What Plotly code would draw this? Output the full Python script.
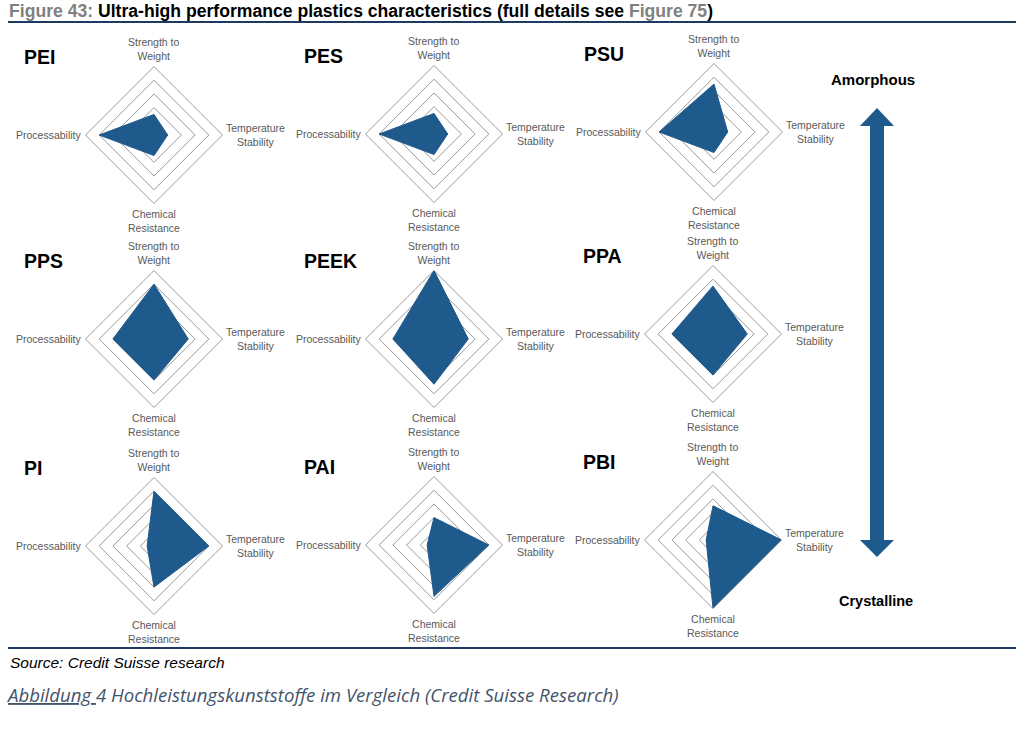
import plotly.graph_objects as go

# ---------------- data ----------------
categories = ["Strength to Weight", "Temperature Stability", "Chemical Resistance", "Processability"]
plastics = ["PEI", "PES", "PSU", "PPS", "PEEK", "PPA", "PI", "PAI", "PBI"]
strength = [1.5, 1.5, 3.5, 4.0, 5.0, 3.5, 4.0, 2.0, 2.5]
temperature = [1.0, 1.0, 1.0, 2.5, 2.5, 2.5, 4.0, 4.0, 5.0]
chemical = [1.5, 1.5, 1.5, 3.0, 3.3, 3.0, 3.0, 3.75, 5.0]
processability = [4.0, 4.0, 4.0, 3.0, 3.0, 3.0, 0.5, 0.5, 0.5]
axis_labels = ["Strength to<br>Weight", "Temperature<br>Stability", "Chemical<br>Resistance", "Processability"]
ring_values = [1, 2, 3, 4, 5]

# ---------------- layout constants ----------------
W, H = 1024, 729
R = 68.5
centers = [(154, 135), (434, 134), (714, 132),
           (154, 339), (434, 339), (713, 334),
           (154, 546), (434, 545), (713, 540)]
FILL = "#1F5A8C"
GRID = "#9a9a9a"
LABEL = "#595959"
NAVY = "#1F3A60"
ARIAL = "Liberation Sans, Arial, sans-serif"


def px(x):
    return x / W


def py(y):
    return 1 - y / H


fig = go.Figure()
annotations = []
layout_polars = {}

for i, name in enumerate(plastics):
    key = "polar" if i == 0 else f"polar{i + 1}"
    vals = [strength[i], temperature[i], chemical[i], processability[i]]
    fig.add_trace(go.Scatterpolar(
        r=vals + [vals[0]],
        theta=categories + [categories[0]],
        mode="lines",
        fill="toself",
        fillcolor=FILL,
        line=dict(color=FILL, width=1),
        subplot=key,
        showlegend=False,
        hoverinfo="skip",
    ))
    cx, cy = centers[i]
    layout_polars[key] = dict(
        domain=dict(x=[px(cx - R), px(cx + R)], y=[py(cy + R), py(cy - R)]),
        bgcolor="white",
        gridshape="linear",
        radialaxis=dict(range=[0, 5], tickvals=ring_values, showticklabels=False, ticks="",
                        showline=False, gridcolor=GRID, gridwidth=1, layer="below traces"),
        angularaxis=dict(rotation=90, direction="clockwise", showticklabels=False, ticks="",
                         showgrid=False, showline=True, linecolor=GRID, linewidth=1,
                         layer="below traces", categoryorder="array", categoryarray=categories),
    )
    lf = dict(family=ARIAL, size=10.5, color=LABEL)
    # axis labels
    annotations.append(dict(x=px(cx), y=py(cy - R), text=axis_labels[0], showarrow=False,
                            xanchor="center", yanchor="bottom", yshift=3, align="center", font=lf))
    annotations.append(dict(x=px(cx + R), y=py(cy), text=axis_labels[1], showarrow=False,
                            xanchor="left", yanchor="middle", xshift=1, align="center", font=lf))
    annotations.append(dict(x=px(cx), y=py(cy + R), text=axis_labels[2], showarrow=False,
                            xanchor="center", yanchor="top", yshift=-2, align="center", font=lf))
    annotations.append(dict(x=px(cx - R), y=py(cy), text=axis_labels[3], showarrow=False,
                            xanchor="right", yanchor="middle", xshift=-2, align="center", font=lf))
    # plastic name
    annotations.append(dict(x=px(cx - 132), y=py(cy - 78), text=f"<b>{name}</b>", showarrow=False,
                            xanchor="left", yanchor="middle",
                            font=dict(family=ARIAL, size=19.5, color="black")))

# title
annotations.append(dict(
    x=px(7), y=py(11), xanchor="left", yanchor="middle", showarrow=False,
    text="<b><span style='color:#808080'>Figure 43:</span> Ultra-high performance plastics characteristics "
         "(full details see <span style='color:#808080'>Figure 75</span>)</b>",
    font=dict(family=ARIAL, size=17.6, color="black")))
# source
annotations.append(dict(
    x=px(8), y=py(662), xanchor="left", yanchor="middle", showarrow=False,
    text="<i>Source: Credit Suisse research</i>",
    font=dict(family=ARIAL, size=15.5, color="black")))
# caption
annotations.append(dict(
    x=px(4), y=py(694), xanchor="left", yanchor="middle", showarrow=False,
    text="<i><u>Abbildung </u>4 Hochleistungskunststoffe im Vergleich (Credit Suisse Research)</i>",
    font=dict(family="Open Sans, Lato, sans-serif", size=18.6, color="#44546A")))
# arrow labels
annotations.append(dict(x=px(873), y=py(79), text="<b>Amorphous</b>", showarrow=False,
                        xanchor="center", yanchor="middle",
                        font=dict(family=ARIAL, size=15, color="black")))
annotations.append(dict(x=px(876), y=py(601), text="<b>Crystalline</b>", showarrow=False,
                        xanchor="center", yanchor="middle",
                        font=dict(family=ARIAL, size=14.5, color="black")))

# double-headed arrow
ax, top_tip, top_base, bot_base, bot_tip, sw, hw = 877, 108, 126, 540, 557, 7, 17
pts = [(ax, top_tip), (ax + hw, top_base), (ax + sw, top_base), (ax + sw, bot_base),
       (ax + hw, bot_base), (ax, bot_tip), (ax - hw, bot_base), (ax - sw, bot_base),
       (ax - sw, top_base), (ax - hw, top_base)]
path = "M " + " L ".join(f"{px(x):.5f},{py(y):.5f}" for x, y in pts) + " Z"
shapes = [
    dict(type="path", xref="paper", yref="paper", path=path, fillcolor=FILL,
         line=dict(color=FILL, width=0)),
    dict(type="line", xref="paper", yref="paper", x0=px(8), x1=px(1016), y0=py(22), y1=py(22),
         line=dict(color=NAVY, width=2)),
    dict(type="line", xref="paper", yref="paper", x0=px(8), x1=px(1016), y0=py(648), y1=py(648),
         line=dict(color=NAVY, width=2)),
]

fig.update_layout(
    width=W, height=H, autosize=False,
    margin=dict(l=0, r=0, t=0, b=0),
    paper_bgcolor="white", plot_bgcolor="white",
    annotations=annotations, shapes=shapes,
    **layout_polars,
)

fig.write_html("out.html", config={"displayModeBar": False},
               post_script="document.body.style.margin='0';")
